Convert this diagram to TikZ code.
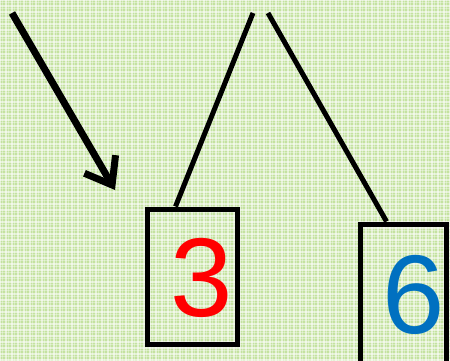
\documentclass[tikz,border=0pt]{standalone}
\usepackage{fontspec}
\setmainfont{Liberation Sans}
\usetikzlibrary{arrows.meta}
\definecolor{bggreen}{RGB}{196,226,160}
\definecolor{digred}{RGB}{255,0,0}
\definecolor{digblue}{RGB}{0,112,192}
\tikzset{
  boxnode/.style={draw=black, line width=5pt, rectangle, inner sep=0pt},
  digit/.style={font=\fontsize{112}{112}\selectfont, inner sep=0pt, anchor=center},
  link/.style={draw=black, line width=5pt},
  bigarrow/.style={draw=black, line width=7pt, -{Straight Barb[length=24pt, width=36pt, line width=7pt]}}
}
\begin{document}
\begin{tikzpicture}[x=1pt, y=-1pt]
  \useasboundingbox (0,0) rectangle (450,361);
  \fill[bggreen] (0,0) rectangle (450,361);
  \begin{scope}
    \clip (0,0) rectangle (450,361);
    \foreach \i in {0,6,...,450} {
      \draw[white, opacity=0.55, line width=1.2pt] (\i,0) -- (\i,361);
      \draw[white, opacity=0.35, line width=0.8pt] (\i+2.5,0) -- (\i+2.5,361);
    }
    \foreach \j in {0,6,...,366} {
      \draw[white, opacity=0.55, line width=1.2pt] (0,\j) -- (450,\j);
      \draw[white, opacity=0.35, line width=0.8pt] (0,\j+2.5) -- (450,\j+2.5);
    }
  \end{scope}

  \node[boxnode, minimum width=90.5pt, minimum height=135pt] (box1) at (192.25,276.5) {};
  \node[boxnode, minimum width=86pt, minimum height=144pt] (box2) at (403,296) {};
  \node[digit, text=digred] (d3) at (201.5,277.5) {3};
  \node[digit, text=digblue] (d6) at (414,294.5) {6};

  \coordinate (apexL) at (253,13);
  \coordinate (apexR) at (268,13);
  \coordinate (arrowStart) at (12,13);
  \coordinate (arrowTip) at (115,190);

  \draw[link] (apexL) -- ([xshift=31pt]box1.north west);
  \draw[link] (apexR) -- ([xshift=29pt]box2.north west);
  \draw[bigarrow] (arrowStart) -- (arrowTip);
\end{tikzpicture}
\end{document}
